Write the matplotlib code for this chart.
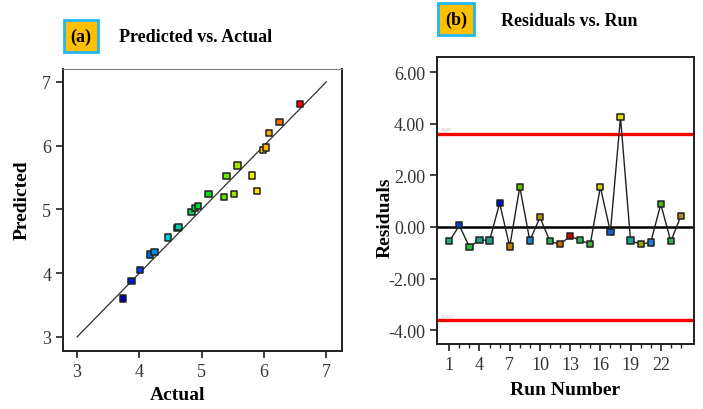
import numpy as np
import matplotlib
matplotlib.use("Agg")
import matplotlib.pyplot as plt
from matplotlib.colors import LinearSegmentedColormap, Normalize
from matplotlib.ticker import MultipleLocator, FixedLocator, FormatStrFormatter

plt.rcParams['font.family'] = ['Liberation Serif', 'DejaVu Serif']

# ---- data ----
actual = [3.74, 3.87, 4.01, 4.17, 4.24, 4.46, 4.61, 4.63, 4.84, 4.89, 4.94, 5.11,
          5.36, 5.40, 5.52, 5.57, 5.81, 5.89, 5.98, 6.03, 6.08, 6.25, 6.58]
predicted = [3.60, 3.88, 4.05, 4.29, 4.33, 4.56, 4.71, 4.72, 4.96, 5.02, 5.05, 5.24,
             5.19, 5.52, 5.24, 5.69, 5.53, 5.29, 5.93, 5.97, 6.20, 6.37, 6.65]

runs = list(range(1, 25))
residuals = [-0.56, 0.06, -0.78, -0.50, -0.53, 0.92, -0.76, 1.55, -0.53, 0.37, -0.56, -0.67,
             -0.36, -0.52, -0.67, 1.55, -0.19, 4.26, -0.53, -0.67, -0.60, 0.88, -0.56, 0.43]
run_colors = ['#20b070', '#1040d0', '#30b040', '#20a090', '#20a080', '#0010c0',
              '#c08000', '#60c000', '#2080d0', '#b09000', '#30b050', '#c07000',
              '#d00000', '#30b060', '#40b040', '#d0d000', '#1060d0', '#e0e000',
              '#20a090', '#90b000', '#2080d0', '#40c010', '#30b050', '#b09020']
limit_upper = 3.62
limit_lower = -3.62
run_ticks = [1, 4, 7, 10, 13, 16, 19, 22]

W, H = 703, 410
fig = plt.figure(figsize=(W / 100, H / 100), dpi=100)
fig.patch.set_facecolor('white')

def frac(px, py):
    return px / W, 1 - py / H

tick_color = '#333333'

# ---- (a) Predicted vs. Actual ----
ax1 = fig.add_axes([63 / W, 1 - 352 / H, (342 - 63) / W, (352 - 70) / H])
ax1.set_xlim(2.775, 7.25)
ax1.set_ylim(2.78, 7.2)
ax1.plot([3, 7], [3, 7], color='#303030', lw=0.9, zorder=2)

cmap = LinearSegmentedColormap.from_list('response', [
    (0.00, '#0000b0'), (0.10, '#0040e0'), (0.18, '#0090e0'), (0.27, '#00d8d8'),
    (0.33, '#00c890'), (0.42, '#00d840'), (0.50, '#10e000'), (0.60, '#80e000'),
    (0.74, '#fff000'), (0.80, '#ffc000'), (0.88, '#ff7000'), (1.00, '#ff0000')])
norm = Normalize(vmin=min(actual), vmax=max(actual))
ax1.scatter(actual, predicted, marker='s', s=22, c=[cmap(norm(a)) for a in actual],
            edgecolors='#202020', linewidths=1.1, zorder=3)

ax1.xaxis.set_major_locator(MultipleLocator(1))
ax1.yaxis.set_major_locator(MultipleLocator(1))
ax1.tick_params(direction='out', length=5, width=1.2, labelsize=13, colors='#202020')
for lab in ax1.get_xticklabels() + ax1.get_yticklabels():
    lab.set_color(tick_color)
for side in ['left', 'bottom', 'right']:
    ax1.spines[side].set_linewidth(1.4)
    ax1.spines[side].set_color('#202020')
ax1.spines['top'].set_linewidth(0.8)
ax1.spines['top'].set_color('#808080')

x, y = frac(22, 200)
fig.text(x, y, 'Predicted', rotation=90, ha='center', va='center',
         fontsize=14, fontweight='bold')
x, y = frac(178, 396)
fig.text(x, y, 'Actual', ha='center', va='center', fontsize=14, fontweight='bold')

x, y = frac(81, 37)
fig.text(x, y, '(a)', ha='center', va='center', fontsize=13, fontweight='bold',
         bbox=dict(boxstyle='square,pad=0.38', facecolor='#ffc000',
                   edgecolor='#20b8f0', linewidth=2))
x, y = frac(196, 37)
fig.text(x, y, 'Predicted vs. Actual', ha='center', va='center',
         fontsize=13, fontweight='bold')

# ---- (b) Residuals vs. Run ----
ax2 = fig.add_axes([437 / W, 1 - 345 / H, (694 - 437) / W, (345 - 58) / H])
ax2.set_xlim(-0.22, 25.3)
ax2.set_ylim(-4.54, 6.59)
ax2.axhline(limit_upper, color='#ff0000', lw=2.4, zorder=1)
ax2.axhline(limit_lower, color='#ff0000', lw=2.4, zorder=1)
ax2.axhline(0, color='black', lw=1.8, zorder=1)
ax2.text(0.2, limit_upper + 0.14, f'{limit_upper:.4f}', fontsize=3, color='#b0b0b0')
ax2.text(0.2, limit_lower + 0.14, f'{limit_lower:.4f}', fontsize=3, color='#b0b0b0')
ax2.plot(runs, residuals, color='#202020', lw=1.0, zorder=2)
ax2.scatter(runs, residuals, marker='s', s=20, c=run_colors,
            edgecolors='#202020', linewidths=1.1, zorder=3)

ax2.xaxis.set_major_locator(FixedLocator(run_ticks))
ax2.xaxis.set_minor_locator(FixedLocator(runs))
ax2.yaxis.set_major_locator(MultipleLocator(2))
ax2.yaxis.set_major_formatter(FormatStrFormatter('%.2f'))
ax2.tick_params(which='major', direction='out', length=5, width=1.2, labelsize=13,
                colors='#202020')
ax2.tick_params(which='minor', direction='out', length=3, width=1.0, colors='#202020')
for lab in ax2.get_xticklabels() + ax2.get_yticklabels():
    lab.set_color(tick_color)
for side in ax2.spines.values():
    side.set_linewidth(1.4)
    side.set_color('#202020')

x, y = frac(385, 218)
fig.text(x, y, 'Residuals', rotation=90, ha='center', va='center',
         fontsize=14, fontweight='bold')
x, y = frac(565, 391)
fig.text(x, y, 'Run Number', ha='center', va='center', fontsize=14, fontweight='bold')

x, y = frac(456, 20)
fig.text(x, y, '(b)', ha='center', va='center', fontsize=13, fontweight='bold',
         bbox=dict(boxstyle='square,pad=0.38', facecolor='#ffc000',
                   edgecolor='#20b8f0', linewidth=2))
x, y = frac(569, 22)
fig.text(x, y, 'Residuals vs. Run', ha='center', va='center',
         fontsize=13, fontweight='bold')

fig.savefig('out.png', dpi=100)
